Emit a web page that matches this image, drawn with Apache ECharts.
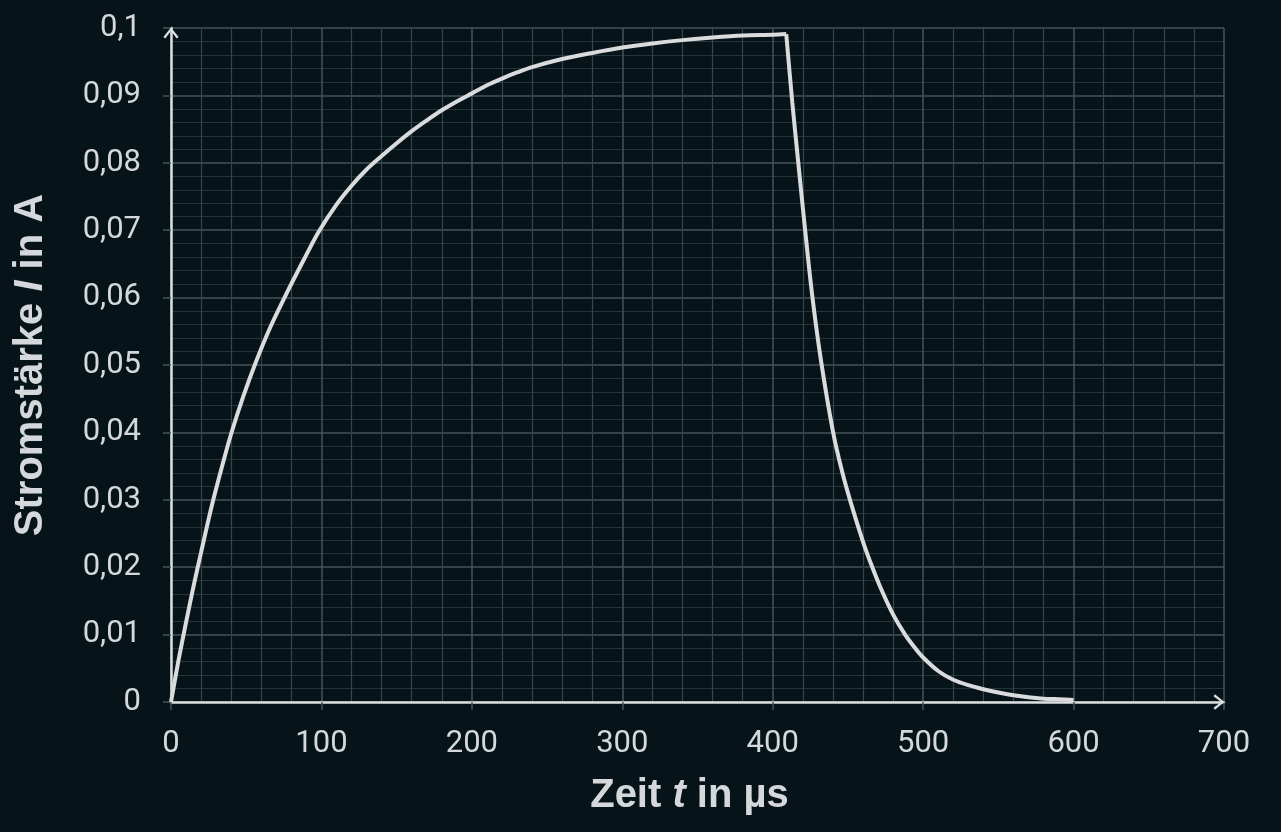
<!DOCTYPE html>
<html>
<head>
<meta charset="utf-8">
<script src="https://cdn.jsdelivr.net/npm/echarts@6/dist/echarts.min.js"></script>
<style>
  html, body { margin: 0; padding: 0; background: #061318; }
  #chart { width: 1281px; height: 832px; }
</style>
</head>
<body>
<div id="chart"></div>
<script>
// charging phase: time in µs, current in A
const riseTime = [0, 5, 10, 15, 20, 27, 34, 40, 48, 56, 66, 77, 88, 98, 110, 120, 130, 140, 150, 160,
  170, 180, 190, 200, 210, 220, 230, 240, 260, 280, 300, 320, 340, 360, 380, 400, 409];
const riseCurrent = [0, 0.0062, 0.0118, 0.0172, 0.0222, 0.0290, 0.0350, 0.0398, 0.0453, 0.0502, 0.0556,
  0.0607, 0.0655, 0.0697, 0.0738, 0.0766, 0.0790, 0.0810, 0.0829, 0.0847, 0.0863, 0.0878, 0.0891,
  0.0903, 0.0915, 0.0925, 0.0934, 0.0942, 0.0954, 0.0963, 0.0971, 0.0977, 0.0982, 0.0986, 0.0989,
  0.0990, 0.0991];

// discharge phase (starts at the last charging point)
const fallTime = [409, 413, 417, 421, 426, 432, 440, 446, 452, 460, 465, 472, 480, 488, 495, 500, 510, 520,
  530, 540, 550, 560, 570, 580, 590, 600];
const fallCurrent = [0.0991, 0.0890, 0.0800, 0.0712, 0.0608, 0.0508, 0.0402, 0.0343, 0.0295, 0.0238, 0.0207,
  0.0168, 0.0130, 0.0100, 0.0079, 0.0066, 0.0046, 0.0033, 0.0025, 0.0019, 0.0014, 0.0010, 0.0007,
  0.0005, 0.0004, 0.0003];

const xTicks = { min: 0, max: 700, step: 100 };
const yTicks = { min: 0, max: 0.1, step: 0.01 };

const textColor = '#d4d8da';
const majorGrid = '#42545a';
const minorGrid = '#23343a';
const axisColor = '#dcdfe0';
const curveColor = '#d9dbdc';
// open chevron arrow head
const chevron = 'path://M0,10 L8,0 L16,10 L14,11.5 L8,3.6 L2,11.5 Z';

const nameRich = {
  b: { fontFamily: 'Liberation Sans, Arial', fontWeight: 'bold', fontSize: 40, color: textColor },
  bi: { fontFamily: 'Liberation Sans, Arial', fontWeight: 'bold', fontStyle: 'italic', fontSize: 40, color: textColor }
};

function axisLineStyle() {
  return {
    show: true,
    symbol: ['none', chevron],
    symbolSize: [16, 11],
    symbolOffset: [0, -5],
    lineStyle: { color: axisColor, width: 2.5 }
  };
}

const chart = echarts.init(document.getElementById('chart'));

chart.setOption({
  backgroundColor: '#061318',
  animation: false,
  grid: { left: 171, right: 57, top: 28, bottom: 130, containLabel: false, outerBoundsMode: 'none' },
  xAxis: {
    type: 'value',
    min: xTicks.min,
    max: xTicks.max,
    interval: xTicks.step,
    name: '{b|Zeit }{bi|t}{b| in µs}',
    nameLocation: 'middle',
    nameGap: 74,
    nameTextStyle: { rich: nameRich, padding: [0, 16, 0, 0] },
    axisLine: axisLineStyle(),
    axisTick: { show: true, length: 8, lineStyle: { color: majorGrid, width: 1.5 } },
    axisLabel: { margin: 27, fontFamily: 'Roboto', fontSize: 31, color: textColor },
    splitLine: { show: true, lineStyle: { color: majorGrid, width: 1.5 } },
    minorTick: { show: false, splitNumber: 5 },
    minorSplitLine: { show: true, lineStyle: { color: '#34464c', width: 1.2 } }
  },
  yAxis: {
    type: 'value',
    min: yTicks.min,
    max: yTicks.max,
    interval: yTicks.step,
    name: '{b|Stromstärke }{bi|I}{b| in A}',
    nameLocation: 'middle',
    nameGap: 120,
    nameRotate: 90,
    nameTextStyle: { rich: nameRich },
    axisLine: axisLineStyle(),
    axisTick: { show: true, length: 8, lineStyle: { color: majorGrid, width: 1.5 } },
    axisLabel: {
      margin: 30,
      fontFamily: 'Roboto',
      fontSize: 31,
      color: textColor,
      formatter: v => v === 0 ? '0' : String(+v.toFixed(3)).replace('.', ',')
    },
    splitLine: { show: true, lineStyle: { color: majorGrid, width: 1.5 } },
    minorTick: { show: false, splitNumber: 5 },
    minorSplitLine: { show: true, lineStyle: { color: minorGrid, width: 1.2 } }
  },
  series: [{
    type: 'line',
    data: riseTime.map((t, i) => [t, riseCurrent[i]]),
    showSymbol: false,
    smooth: 0.3,
    lineStyle: { color: curveColor, width: 4 },
    z: 5
  }, {
    type: 'line',
    data: fallTime.map((t, i) => [t, fallCurrent[i]]),
    showSymbol: false,
    smooth: 0.3,
    lineStyle: { color: curveColor, width: 4 },
    z: 5
  }]
});
</script>
</body>
</html>
